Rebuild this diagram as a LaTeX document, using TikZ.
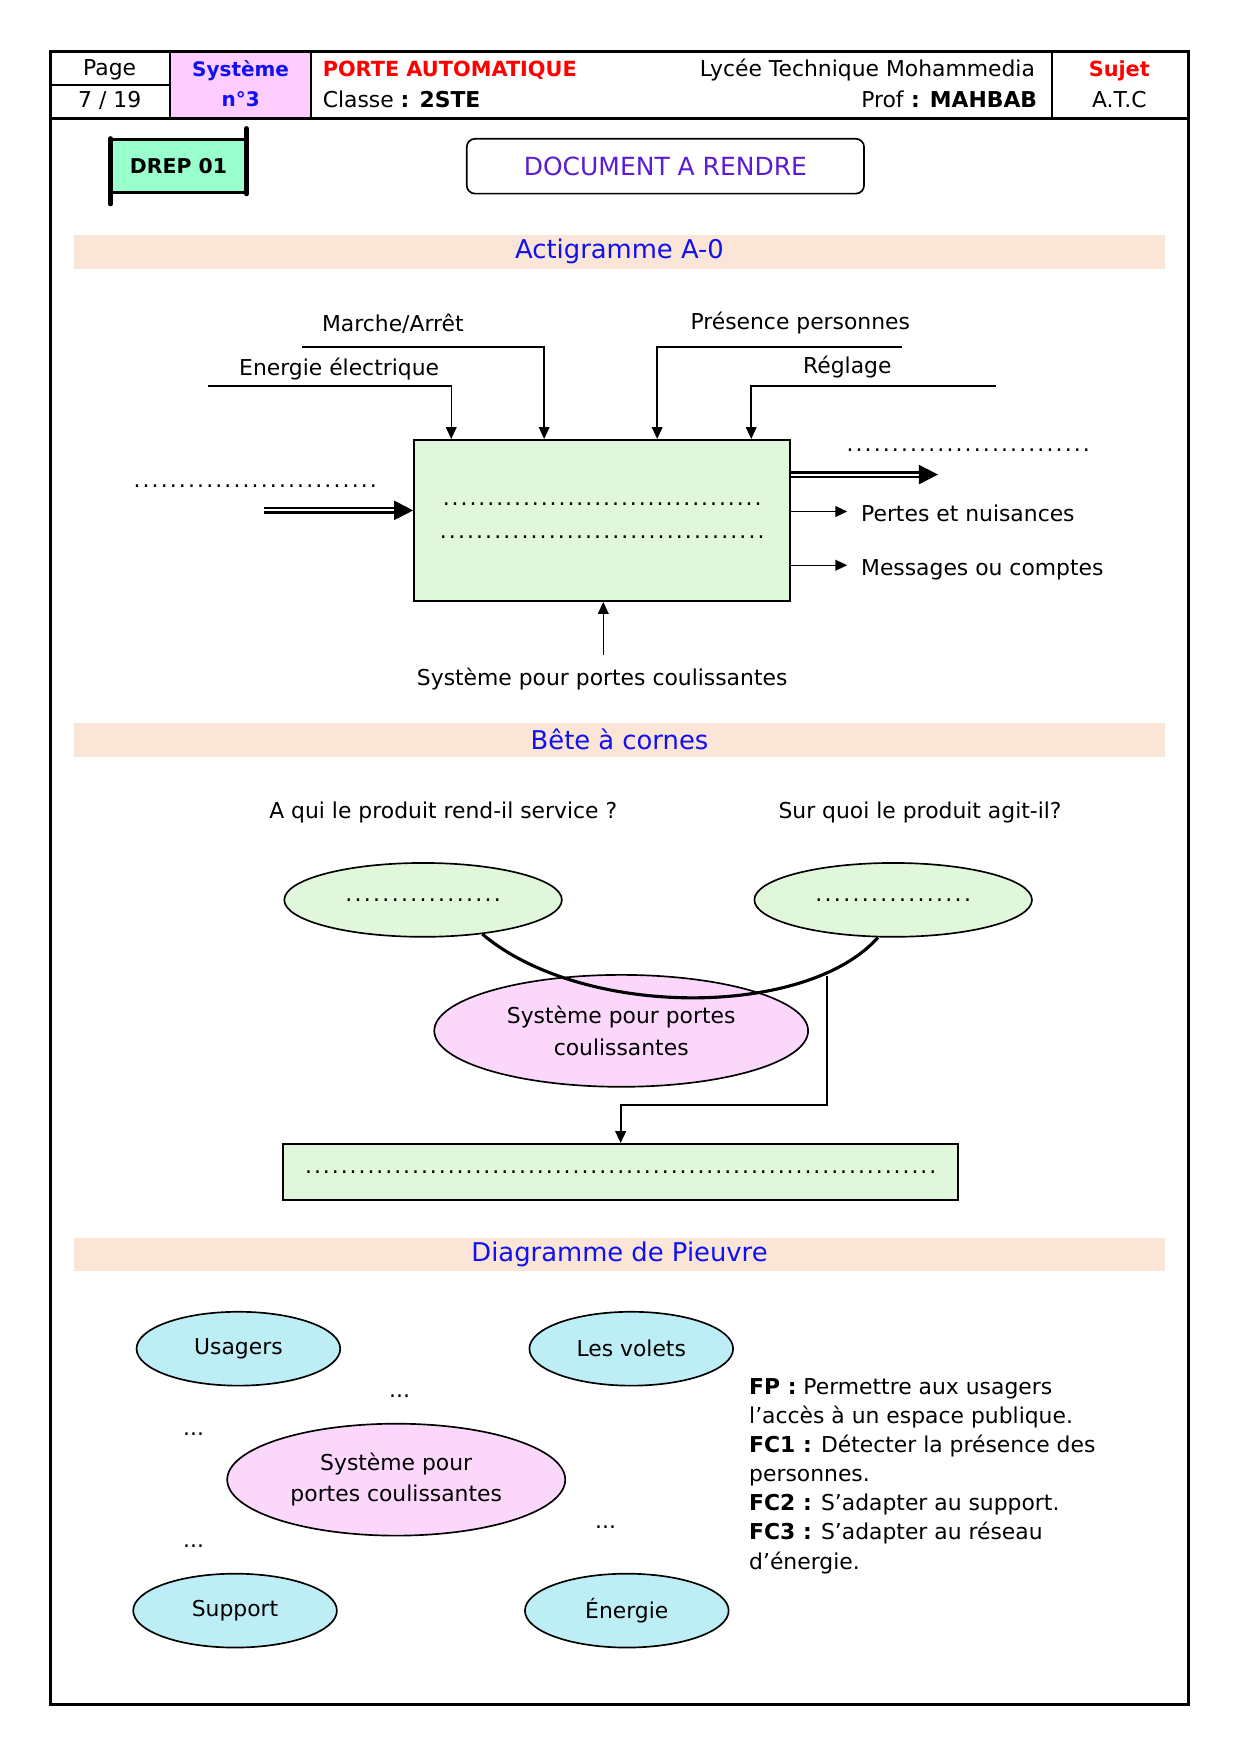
\documentclass[tikz,border=0pt]{standalone}
\usepackage{fontspec}
\setmainfont{DejaVu Sans}
\usetikzlibrary{arrows.meta,positioning,shapes.geometric,calc}
\definecolor{cBlue}{HTML}{1010F0}
\definecolor{cRed}{HTML}{FF0000}
\definecolor{cDoc}{HTML}{5B1BD2}
\definecolor{cSysBg}{HTML}{FFCCFF}
\definecolor{cDrep}{HTML}{99FFCC}
\definecolor{cBand}{HTML}{FBE5D6}
\definecolor{cGreen}{HTML}{E1F7DB}
\definecolor{cPink}{HTML}{FCD7FC}
\definecolor{cCyan}{HTML}{BDEEF6}
\newcommand{\pxu}{0.5375pt}
\newcommand{\dotrow}[1]{\hbox to #1{\xleaders\hbox to 4.25pt{\hss.\hss}\hfill}}

\begin{document}
\begin{tikzpicture}[
    x=\pxu, y=-\pxu,
    font=\fontsize{10.5}{13}\selectfont,
    >={Triangle[length=2mm,width=1.8mm]},
    every node/.style={inner sep=0pt},
    frame/.style={draw=black, line width=1.2pt},
    cell/.style={draw=black, line width=0.9pt},
    sysid/.style={font=\fontsize{9.6}{13}\selectfont\bfseries, text=cBlue},
    redhead/.style={font=\fontsize{10}{13}\selectfont\bfseries, text=cRed},
    drepbox/.style={
        rectangle, draw=black, line width=1.4pt, fill=cDrep,
        minimum width=119*\pxu, minimum height=47*\pxu,
        font=\fontsize{9.8}{13}\selectfont\bfseries
    },
    drepbar/.style={line width=2.2pt, line cap=round},
    docbox/.style={
        rectangle, rounded corners=4pt, draw=black, line width=0.8pt,
        minimum width=355*\pxu, minimum height=49*\pxu,
        text=cDoc, font=\fontsize{12}{14}\selectfont
    },
    band/.style={
        rectangle, fill=cBand, minimum width=975*\pxu, minimum height=30*\pxu,
        text=cBlue, font=\fontsize{12.4}{15}\selectfont
    },
    fbox/.style={rectangle, draw=black, line width=0.9pt, fill=cGreen, align=center},
    arr/.style={->, line width=0.7pt},
    dblarr/.style={-{Triangle[length=3.2mm,width=3.2mm]}, double, double distance=1pt, line width=1pt},
    horn/.style={
        ellipse, draw=black, line width=0.8pt, fill=cGreen,
        minimum width=248*\pxu, minimum height=66*\pxu
    },
    sysell/.style={
        ellipse, draw=black, line width=0.8pt, fill=cPink,
        align=center, font=\fontsize{10.5}{15}\selectfont
    },
    octo/.style={
        ellipse, draw=black, line width=0.8pt, fill=cCyan,
        minimum width=182*\pxu, minimum height=66*\pxu
    },
    hornline/.style={line width=1.5pt},
]
\useasboundingbox (0,0) rectangle (1112,1568);

% =====================================================
% Header table
% =====================================================

\fill[cSysBg] (152,46) rectangle (278,106);
\draw[frame] (45,46) rectangle (1062,1523);
\draw[frame] (45,106) -- (1062,106);
\draw[cell] (152,46) -- (152,106);
\draw[cell] (278,46) -- (278,106);
\draw[cell] (940,46) -- (940,106);
\draw[cell] (45,76) -- (152,76);

\node (page)    at (98,62) {Page};
\node (pagenum) at (98,90) {7 / 19};
\node[sysid] (sysname) at (215,63) {Système};
\node[sysid] (sysnum)  at (215,89) {n°3};
\node[redhead, anchor=west] (porte)  at (288,63) {PORTE AUTOMATIQUE};
\node[anchor=west]          (classe) at (288,89) {Classe \textbf{: 2STE}};
\node[anchor=east] (lycee) at (925,63) {Lycée Technique Mohammedia};
\node[anchor=east] (prof)  at (927,89) {Prof \textbf{: MAHBAB}};
\node[redhead] (sujet) at (1000,63) {Sujet};
\node          (atc)   at (1000,89) {A.T.C};

% DREP scroll and title
\node[drepbox] (drep) at (159.5,148.5) {DREP 01};
\draw[drepbar] (drep.north west) -- ($(drep.south west)+(0,9)$);
\draw[drepbar] ($(drep.north east)+(0,-9)$) -- (drep.south east);

\node[docbox] (doc) at (594.5,148.5) {DOCUMENT A RENDRE};

% =====================================================
% Actigramme A-0
% =====================================================

\node[band] (bandA) at (553.5,225) {Actigramme A-0};

\node[fbox, minimum width=336*\pxu, minimum height=144*\pxu,
      font=\fontsize{10.5}{15.6}\selectfont] (box) at (538,465)
      {\dotrow{154pt}\\\dotrow{157pt}};

% controls from above
\node (marche)   at (351,289) {Marche/Arrêt};
\node (energie)  at (303,330) {Energie électrique};
\node (presence) at (715,289) {Présence personnes};
\node (reglage)  at (757,328) {Réglage};

\coordinate (marcheS)   at (270,310);
\coordinate (energieS)  at (186,345);
\coordinate (presenceS) at (806,310);
\coordinate (reglageS)  at (890,345);

\draw[arr] (marcheS)   -| ($(box.north west)+(117,0)$);
\draw[arr] (energieS)  -| ($(box.north west)+(34,0)$);
\draw[arr] (presenceS) -| ($(box.north west)+(218,0)$);
\draw[arr] (reglageS)  -| ($(box.north west)+(302,0)$);

% input / outputs
\node (indots) at (228,434) {\dotrow{118pt}};
\coordinate (inS) at (236,456);
\draw[dblarr] (inS) -- (inS -| box.west);

\node (outdots) at (865,402) {\dotrow{118pt}};
\coordinate (outE) at (838,424);
\draw[dblarr] (outE -| box.east) -- (outE);

\node[anchor=west] (pertes)   at (769,459) {Pertes et nuisances};
\node[anchor=west] (messages) at (769,509) {Messages ou comptes};
\draw[arr] ($(box.east |- pertes.west)+(0,-2)$) -- ($(pertes.west)+(-12,-2)$);
\draw[arr] ($(box.east |- messages.west)+(0,-4)$) -- ($(messages.west)+(-12,-4)$);

% support
\node (meca) at (538,607) {Système pour portes coulissantes};
\draw[arr] ($(meca.north)+(1,-12)$) -- ($(box.south)+(1,0)$);

% =====================================================
% Bete a cornes
% =====================================================

\node[band] (bandB) at (553.5,661) {Bête à cornes};

\node (qui)  at (396,726) {A qui le produit rend-il service ?};
\node (quoi) at (822,726) {Sur quoi le produit agit-il?};

\node[horn] (user)   at (378,804) {\dotrow{76pt}};
\node[horn] (matter) at (798,804) {\dotrow{76pt}};
\node[sysell, minimum width=334*\pxu, minimum height=100*\pxu] (sysB) at (555,921)
      {Système pour portes\\coulissantes};

\draw[hornline] (user.-30) .. controls (520,910) and (720,910) .. (matter.248);

\node[fbox, minimum width=603*\pxu, minimum height=50*\pxu] (goal) at (554.5,1047)
      {\dotrow{304pt}};

\coordinate (drop) at (739,872);
\draw[arr, line width=0.9pt] (drop) |- ($(goal.north)+(0,-34)$) -- (goal.north);

% =====================================================
% Diagramme de Pieuvre
% =====================================================

\node[band] (bandC) at (553.5,1121) {Diagramme de Pieuvre};

\node[octo] (usagers) at (213,1205) {Usagers};
\node[octo] (volets)  at (564,1205) {Les volets};
\node[octo] (support) at (210,1439) {Support};
\node[octo] (energy)  at (560,1439) {Énergie};
\node[sysell, minimum width=302*\pxu, minimum height=100*\pxu] (sysC) at (354,1322)
      {Système pour\\portes coulissantes};

\node (fpdots)  at (357,1247) {...};
\node (fc1dots) at (173,1281) {...};
\node (fc2dots) at (173,1381) {...};
\node (fc3dots) at (541,1364) {...};

\node[anchor=north west, align=left, font=\fontsize{10.5}{14}\selectfont] (fcs) at (669,1231)
      {\textbf{FP :} Permettre aux usagers\\
       l’accès à un espace publique.\\
       \textbf{FC1 :} Détecter la présence des\\
       personnes.\\
       \textbf{FC2 :} S’adapter au support.\\
       \textbf{FC3 :} S’adapter au réseau\\
       d’énergie.};

\end{tikzpicture}
\end{document}
